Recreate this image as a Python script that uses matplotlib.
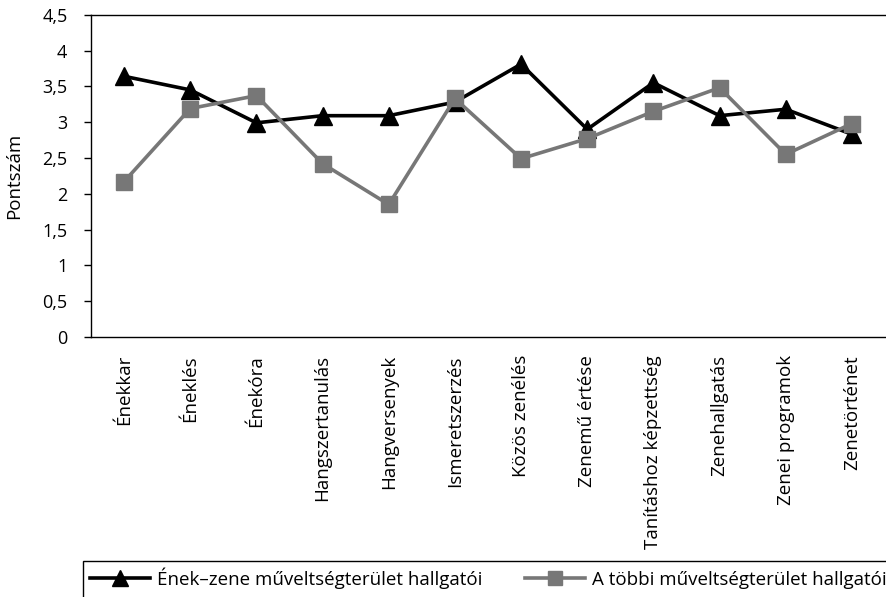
import matplotlib
matplotlib.use("Agg")
import matplotlib.pyplot as plt
from matplotlib.patches import Rectangle
from matplotlib.lines import Line2D

categories = ["Énekkar", "Éneklés", "Énekóra", "Hangszertanulás", "Hangversenyek",
              "Ismeretszerzés", "Közös zenélés", "Zenemű értése",
              "Tanításhoz képzettség", "Zenehallgatás", "Zenei programok", "Zenetörténet"]
enek_zene = [3.64, 3.45, 2.99, 3.09, 3.09, 3.28, 3.81, 2.90, 3.55, 3.09, 3.18, 2.83]
tobbi = [2.17, 3.19, 3.37, 2.42, 1.85, 3.33, 2.49, 2.77, 3.15, 3.48, 2.55, 2.98]
yticks = [0, 0.5, 1, 1.5, 2, 2.5, 3, 3.5, 4, 4.5]
ytick_labels = ["0", "0,5", "1", "1,5", "2", "2,5", "3", "3,5", "4", "4,5"]
series_names = ["Ének–zene műveltségterület hallgatói", "A többi műveltségterület hallgatói"]

plt.rcParams['font.family'] = ['Open Sans', 'DejaVu Sans']

fig = plt.figure(figsize=(8.87, 5.97), dpi=100)
ax = fig.add_axes([91/887, 1-337/597, (885-91)/887, (337-14.7)/597])

x = list(range(len(categories)))
ax.plot(x, enek_zene, color="black", lw=2.6, marker="^", markersize=13, zorder=3)
ax.plot(x, tobbi, color="#777777", lw=2.6, marker="s", markersize=12, zorder=3)

ax.set_xlim(-0.5, len(categories)-0.5)
ax.set_ylim(0, 4.5)
ax.set_yticks(yticks)
ax.set_yticklabels(ytick_labels, fontsize=13)
ax.set_xticks(x)
ax.set_xticklabels(categories, rotation=90, fontsize=13.5, va="top", ha="center")
ax.tick_params(axis="x", length=0, pad=13)
ax.tick_params(axis="y", length=5, width=1, pad=12, direction="out")
ax.spines["right"].set_visible(False)
for s in ["top", "bottom", "left"]:
    ax.spines[s].set_linewidth(1.0)
ax.set_ylabel("Pontszám", fontsize=13.5, labelpad=14)

# legend box
fig.patches.append(Rectangle((83/887, -0.05), 1.0, 0.05 + (597-561)/597,
                             transform=fig.transFigure, fill=False,
                             edgecolor="black", lw=1.0))
handles = [Line2D([], [], color="black", lw=2.6, marker="^", markersize=11),
           Line2D([], [], color="#777777", lw=2.6, marker="s", markersize=10)]
fig.legend(handles, series_names, loc="center left",
           bbox_to_anchor=(90/887, 1-578/597), ncol=2, frameon=False,
           fontsize=13.5, handlelength=3.2, columnspacing=2.3, handletextpad=0.35,
           borderaxespad=0, borderpad=0)

fig.savefig("out.png", dpi=100)
